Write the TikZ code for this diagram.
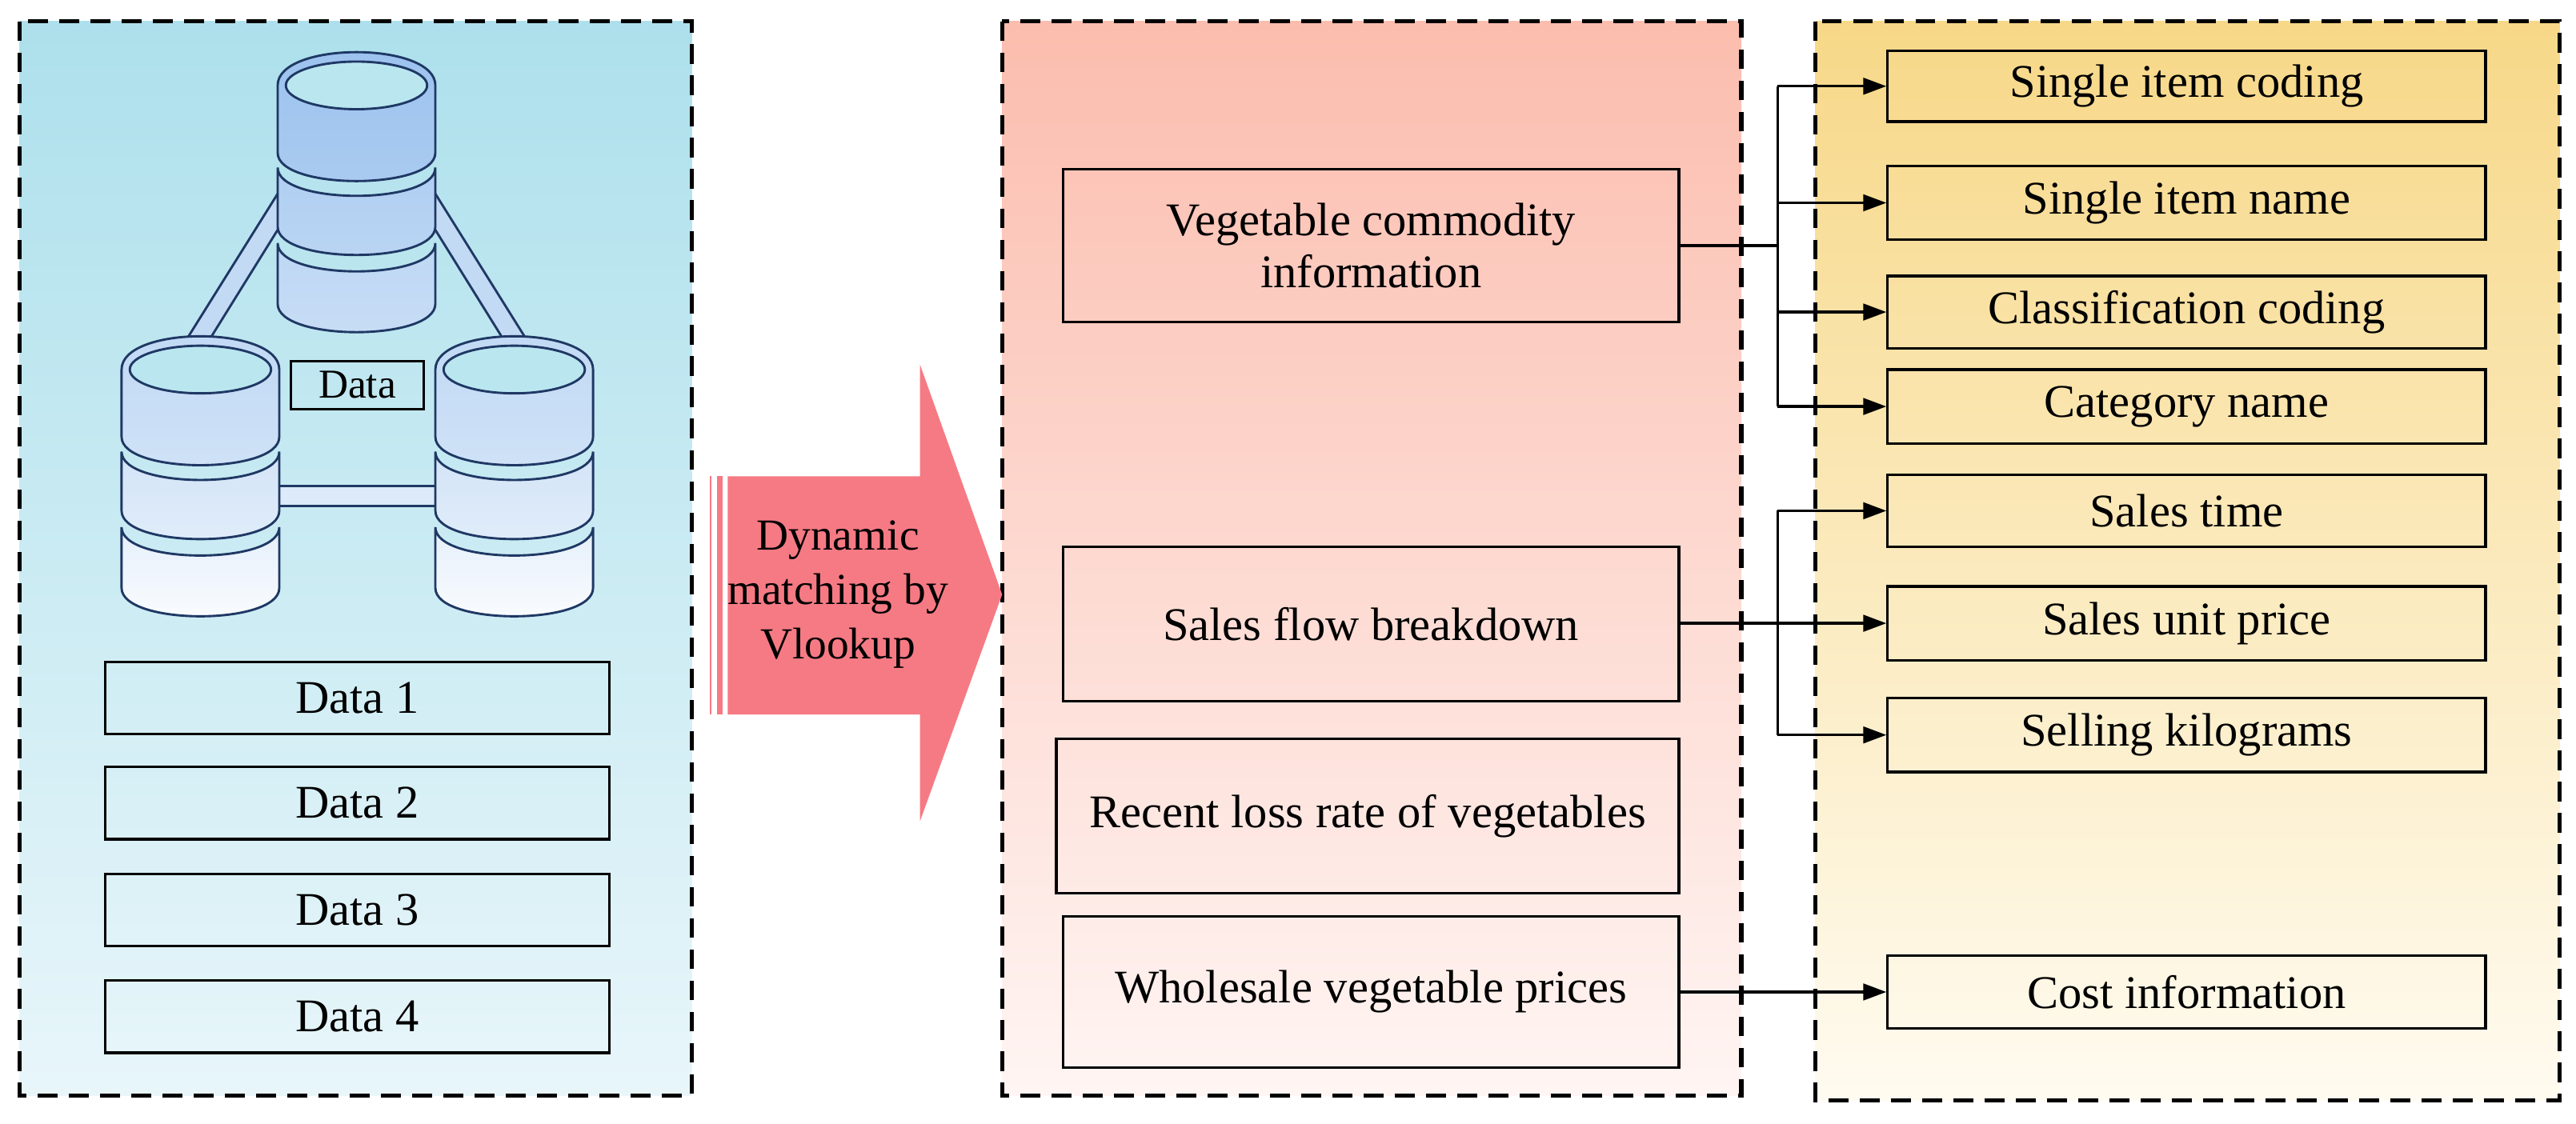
\documentclass[tikz,border=0pt]{standalone}
\usepackage{fontspec}
\setmainfont{Liberation Serif}
\usetikzlibrary{arrows.meta}
\definecolor{dbline}{RGB}{31,56,100}
\definecolor{dbblue}{RGB}{155,194,238}
\definecolor{dbin}{RGB}{186,230,240}
\definecolor{arrowred}{RGB}{246,122,132}
\newcommand\mycylseg[4]{% y1 y2 ptop pbot
  \shade[top color=dbblue!#3!white,bottom color=dbblue!#4!white,draw=dbline,line width=1.4pt]
   (-48,#1) .. controls (-48,#1+23) and (48,#1+23) .. (48,#1) -- (48,#2) .. controls (48,#2+23) and (-48,#2+23) .. (-48,#2) -- cycle;}
\newcommand\mycyl[8]{% x y p1..p6
  \begin{scope}[shift={(#1,#2)}]
  \mycylseg{50}{86}{#5}{#6}\mycylseg{96}{133}{#7}{#8}
  \shade[top color=dbblue!#3!white,bottom color=dbblue!#4!white,draw=dbline,line width=1.4pt]
   (-48,0) -- (-48,41) .. controls (-48,64) and (48,64) .. (48,41) -- (48,0) .. controls (48,-27) and (-48,-27) .. (-48,0) -- cycle;
  \draw[dbline,line width=1.4pt,fill=dbin] (0,0) ellipse [x radius=43,y radius=14.5];
  \end{scope}}
\begin{document}
\begin{tikzpicture}[x=1pt,y=-1pt,
  panel/.style={draw=black,line width=2.6pt,dash pattern=on 12pt off 7pt},
  box/.style={draw=black,line width=1.6pt,font=\fontsize{28.5}{32}\selectfont,align=center,inner sep=0pt},
  con/.style={line width=1.6pt},
  arr/.style={con,-{Triangle[length=14pt,width=10pt]}}]
\useasboundingbox (0,0) rectangle (1568,684);
% panels
\shade[top color={rgb,255:red,173;green,224;blue,236},bottom color={rgb,255:red,232;green,246;blue,250}] (12,13) rectangle (421,667);
\draw[panel] (12,13) rectangle (421,667);
\shade[top color={rgb,255:red,251;green,189;blue,174},bottom color={rgb,255:red,255;green,245;blue,243}] (610,13) rectangle (1060,667);
\draw[panel] (610,13) rectangle (1060,667);
\shade[top color={rgb,255:red,247;green,216;blue,136},bottom color={rgb,255:red,255;green,251;blue,240}] (1105,13) rectangle (1558,670);
\draw[panel] (1105,13) rectangle (1558,670);
% database icon
\fill[dbblue!60!white] (169,118) -- (114,206) -- (128,206) -- (169,140) -- cycle;
\fill[dbblue!60!white] (265,118) -- (320,206) -- (306,206) -- (265,140) -- cycle;
\draw[dbline,line width=1.4pt] (169,118) -- (114,206) (128,206) -- (169,140);
\draw[dbline,line width=1.4pt] (265,118) -- (320,206) (306,206) -- (265,140);
\fill[dbblue!35!white] (169,296) rectangle (265,308);
\draw[dbline,line width=1.4pt] (169,296) -- (265,296) (169,308) -- (265,308);
\mycyl{217}{52}{100}{85}{80}{68}{66}{55}
\mycyl{122}{225}{62}{48}{44}{30}{26}{4}
\mycyl{313}{225}{62}{48}{44}{30}{26}{4}
\node[draw=black,line width=1.4pt,minimum width=81pt,minimum height=29pt,inner sep=0pt,font=\fontsize{25}{28}\selectfont] (data) at (217.5,234.5) {Data};
% left boxes
\node[box,minimum width=307pt,minimum height=44pt] (d1) at (217.5,425) {Data 1};
\node[box,minimum width=307pt,minimum height=44pt] (d2) at (217.5,489) {Data 2};
\node[box,minimum width=307pt,minimum height=44pt] (d3) at (217.5,554) {Data 3};
\node[box,minimum width=307pt,minimum height=44pt] (d4) at (217.5,619) {Data 4};
% big arrow
\fill[arrowred] (443,290) -- (560,290) -- (560,222) -- (610,362) -- (560,500) -- (560,435) -- (443,435) -- cycle;
\fill[arrowred] (432,290) rectangle (433,435);
\fill[arrowred] (436.5,290) rectangle (440,435);
\node[font=\fontsize{27}{33}\selectfont,align=center] (dyn) at (510,362) {Dynamic\\matching by\\Vlookup};
% middle boxes
\node[box,minimum width=375pt,minimum height=93pt] (veg) at (834.5,149.5) {Vegetable commodity\\information};
\node[box,minimum width=375pt,minimum height=94pt] (sal) at (834.5,380) {Sales flow breakdown};
\node[box,minimum width=379pt,minimum height=94pt] (los) at (832.5,497) {Recent loss rate of vegetables};
\node[box,minimum width=375pt,minimum height=92pt] (who) at (834.5,604) {Wholesale vegetable prices};
% right boxes
\node[box,minimum width=364pt,minimum height=43pt] (r1) at (1331,52.5) {Single item coding};
\node[box,minimum width=364pt,minimum height=45pt] (r2) at (1331,123.5) {Single item name};
\node[box,minimum width=364pt,minimum height=44pt] (r3) at (1331,190) {Classification coding};
\node[box,minimum width=364pt,minimum height=45pt] (r4) at (1331,247.5) {Category name};
\node[box,minimum width=364pt,minimum height=44pt] (r5) at (1331,311) {Sales time};
\node[box,minimum width=364pt,minimum height=45pt] (r6) at (1331,379.5) {Sales unit price};
\node[box,minimum width=364pt,minimum height=45pt] (r7) at (1331,447.5) {Selling kilograms};
\node[box,minimum width=364pt,minimum height=44pt] (r8) at (1331,604) {Cost information};
% connectors
\coordinate (j1) at (1082,149.5);
\draw[con] (veg.east) -- (j1);
\draw[con] (1082,52.5) -- (1082,247.5);
\foreach \r in {r1,r2,r3,r4} \draw[arr] (j1 |- \r.west) -- (\r.west);
\draw[arr] (sal.east |- r6.west) -- (r6.west);
\draw[con] (1082,311) -- (1082,447.5);
\foreach \r in {r5,r7} \draw[arr] (1082,0 |- \r.west) -- (\r.west);
\draw[arr] (who.east) -- (r8.west);
\end{tikzpicture}
\end{document}
